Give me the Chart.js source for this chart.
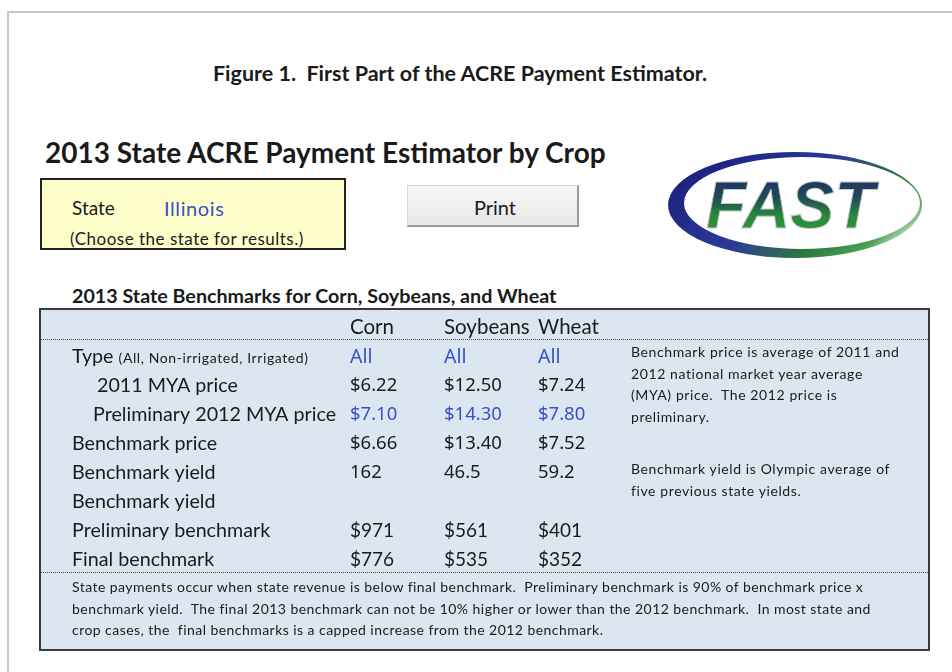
<!DOCTYPE html>
<html>
<head>
<meta charset="utf-8">
<script src="https://cdn.jsdelivr.net/npm/chart.js"></script>
<style>
  body { margin: 0; width: 952px; height: 672px; overflow: hidden; background: #fff; font-family: Lato, "Open Sans", sans-serif; color: #1a1a1a; position: relative; }
  .t { position: absolute; white-space: nowrap; line-height: 30px; height: 30px; }
  #frame { position: absolute; left: 7px; top: 11px; width: 980px; height: 700px; border: 2px solid #c8c8c8; }
  #stateBox { position: absolute; left: 40px; top: 178px; width: 306px; height: 72px; box-sizing: border-box; background: #ffffcc; border: 2px solid #222; }
  #printBtn { position: absolute; left: 407px; top: 185px; width: 172px; height: 42px; box-sizing: border-box; background: linear-gradient(#f6f6f6, #e8e8e8); border: 1px solid #d8d8d8; border-right: 2px solid #9a9a9a; border-bottom: 2px solid #9a9a9a; }
  #tableBox { position: absolute; left: 39px; top: 308px; width: 891px; height: 343px; box-sizing: border-box; background: #dce6f1; border: 2px solid #3a3a3a; }
  #tableCanvasWrap { position: absolute; left: 39px; top: 308px; width: 891px; height: 343px; }
  .note { font-size: 14px; line-height: 21.5px; height: auto; letter-spacing: 0.6px; }
</style>
</head>
<body>
<div id="frame"></div>

<div class="t" style="left:0;width:920px;text-align:center;top:58px;font-weight:bold;font-size:21.5px;">Figure 1.&nbsp; First Part of the ACRE Payment Estimator.</div>
<div class="t" style="left:45px;top:137px;font-weight:bold;font-size:28px;">2013 State ACRE Payment Estimator by Crop</div>

<div id="stateBox"></div>
<div class="t" style="left:72px;top:193px;font-size:19px;">State</div>
<div class="t" style="left:164px;top:193px;font-size:20px;letter-spacing:0.6px;color:#3a4fc8;">Illinois</div>
<div class="t" style="left:70px;top:224px;font-size:17px;letter-spacing:0.5px;">(Choose the state for results.)</div>

<div id="printBtn"></div>
<div class="t" style="left:409px;width:172px;text-align:center;top:192px;font-size:20px;">Print</div>

<svg style="position:absolute;left:660px;top:145px;" width="280" height="125" viewBox="0 0 280 125">
  <defs>
    <linearGradient id="swoosh" x1="0" y1="0.25" x2="1" y2="0.75">
      <stop offset="0" stop-color="#1b1f7e"/>
      <stop offset="0.45" stop-color="#2c3a96"/>
      <stop offset="0.72" stop-color="#2c7a3e"/>
      <stop offset="0.88" stop-color="#4aa058"/>
      <stop offset="1" stop-color="#e8efe8"/>
    </linearGradient>
    <linearGradient id="fastFill" x1="0" y1="0" x2="0" y2="1">
      <stop offset="0" stop-color="#1e2a66"/>
      <stop offset="0.4" stop-color="#1f4a58"/>
      <stop offset="0.65" stop-color="#2a8a3a"/>
      <stop offset="1" stop-color="#2f9a40"/>
    </linearGradient>
  </defs>
  <path fill="url(#swoosh)" fill-rule="evenodd"
        d="M8,60 A127,53 0 1,0 262,60 A127,53 0 1,0 8,60 Z M24,58 A118,46 0 1,1 260,58 A118,46 0 1,1 24,58 Z"/>
  <text x="46" y="83" font-family="Liberation Sans, Arial, sans-serif" font-weight="bold" font-style="italic" font-size="66" fill="url(#fastFill)" stroke="#c8c8c8" stroke-width="1">FAST</text>
</svg>

<div class="t" style="left:72px;top:281px;font-weight:bold;font-size:19.7px;">2013 State Benchmarks for Corn, Soybeans, and Wheat</div>

<div id="tableBox"></div>
<div id="tableCanvasWrap"><canvas id="benchmarkTable" width="891" height="343"></canvas></div>

<div class="t note" style="left:631px;top:341px;">Benchmark price is average of 2011 and<br>2012 national market year average<br>(MYA) price.&nbsp; The 2012 price is<br>preliminary.</div>
<div class="t note" style="left:631px;top:458px;">Benchmark yield is Olympic average of<br>five previous state yields.</div>
<div class="t note" style="left:72px;top:576px;letter-spacing:0.45px;">State payments occur when state revenue is below final benchmark.&nbsp; Preliminary benchmark is 90% of benchmark price x<br>benchmark yield.&nbsp; The final 2013 benchmark can not be 10% higher or lower than the 2012 benchmark.&nbsp; In most state and<br>crop cases, the&nbsp; final benchmarks is a capped increase from the 2012 benchmark.</div>

<script>
// Table data
const crops = ['Corn', 'Soybeans', 'Wheat'];
const rowLabels = ['Type', '2011 MYA price', 'Preliminary 2012 MYA price', 'Benchmark price',
                   'Benchmark yield', 'Benchmark yield', 'Preliminary benchmark', 'Final benchmark'];
const cropType = ['All', 'All', 'All'];
const mya2011 = [6.22, 12.50, 7.24];
const mya2012 = [7.10, 14.30, 7.80];
const benchPrice = [6.66, 13.40, 7.52];
const benchYield = [162, 46.5, 59.2];
const prelimBench = [971, 561, 401];
const finalBench = [776, 535, 352];

const BLUE = '#3a4fc8';
const INK = '#1a1a1a';
const sansA = '18.5px "Noto Sans", sans-serif';
const sansB = '19.7px Lato, sans-serif';

// one dataset per table row
const rowSeries = [
    { values: cropType, fmt: v => v, color: BLUE, font: '19.5px "Noto Sans", sans-serif' },
    { values: mya2011, fmt: v => '$' + v.toFixed(2), color: INK, font: sansA },
    { values: mya2012, fmt: v => '$' + v.toFixed(2), color: BLUE, font: sansA },
    { values: benchPrice, fmt: v => '$' + v.toFixed(2), color: INK, font: sansA },
    { values: benchYield, fmt: v => String(v), color: INK, font: sansA },
    { values: [], fmt: v => v, color: INK, font: sansA },
    { values: prelimBench, fmt: v => '$' + v, color: INK, font: '19px Lato, sans-serif' },
    { values: finalBench, fmt: v => '$' + v, color: INK, font: '19px Lato, sans-serif' }
];
const labelIndent = [0, 25, 21, 0, 0, 0, 0, 0];

const datasets = rowSeries.map((r, ri) => ({
    label: rowLabels[ri],
    data: r.values.map((v, ci) => ({ x: crops[ci], y: ri + 1 })),
    pointRadius: 0,
    showLine: false
}));

const tableText = {
    id: 'tableText',
    afterDatasetsDraw(chart) {
        const ctx = chart.ctx;
        const x = chart.scales.x;
        const y = chart.scales.y;
        ctx.save();
        ctx.textBaseline = 'middle';
        ctx.textAlign = 'left';

        // column headers
        ctx.fillStyle = INK;
        ctx.font = '20.5px Lato, sans-serif';
        crops.forEach((c, ci) => ctx.fillText(c, x.getPixelForValue(ci), y.getPixelForValue(0) - 1));

        // row labels
        rowLabels.forEach((lab, ri) => {
            const py = y.getPixelForValue(ri + 1);
            ctx.font = sansB;
            ctx.fillStyle = INK;
            ctx.fillText(lab, 33 + labelIndent[ri], py);
            if (ri === 0) {
                const w = ctx.measureText(lab + ' ').width;
                ctx.font = '14px Lato, sans-serif';
                ctx.letterSpacing = '0.6px';
                ctx.fillText('(All, Non-irrigated, Irrigated)', 33 + w, py + 1);
                ctx.letterSpacing = '0px';
            }
        });

        // cell values
        rowSeries.forEach((r, ri) => {
            const meta = chart.getDatasetMeta(ri);
            ctx.font = r.font;
            ctx.fillStyle = r.color;
            meta.data.forEach((pt, ci) => ctx.fillText(r.fmt(r.values[ci]), pt.x, pt.y));
        });

        // dotted separators
        ctx.strokeStyle = '#4a4a4a';
        ctx.lineWidth = 1;
        ctx.setLineDash([1, 1]);
        [0.38, 8.41].forEach(v => {
            const py = Math.round(y.getPixelForValue(v)) + 0.5;
            ctx.beginPath();
            ctx.moveTo(0, py);
            ctx.lineTo(chart.width, py);
            ctx.stroke();
        });
        ctx.restore();
    }
};

new Chart(document.getElementById('benchmarkTable'), {
    type: 'scatter',
    data: { datasets: datasets },
    options: {
        responsive: false,
        animation: false,
        events: [],
        layout: { padding: { left: 311, right: 392, top: 20, bottom: 91 } },
        plugins: { legend: { display: false }, tooltip: { enabled: false } },
        scales: {
            x: { type: 'category', labels: crops, offset: false, display: false },
            y: { type: 'linear', min: 0, max: rowLabels.length, reverse: true, display: false }
        }
    },
    plugins: [tableText]
});
</script>
</body>
</html>
